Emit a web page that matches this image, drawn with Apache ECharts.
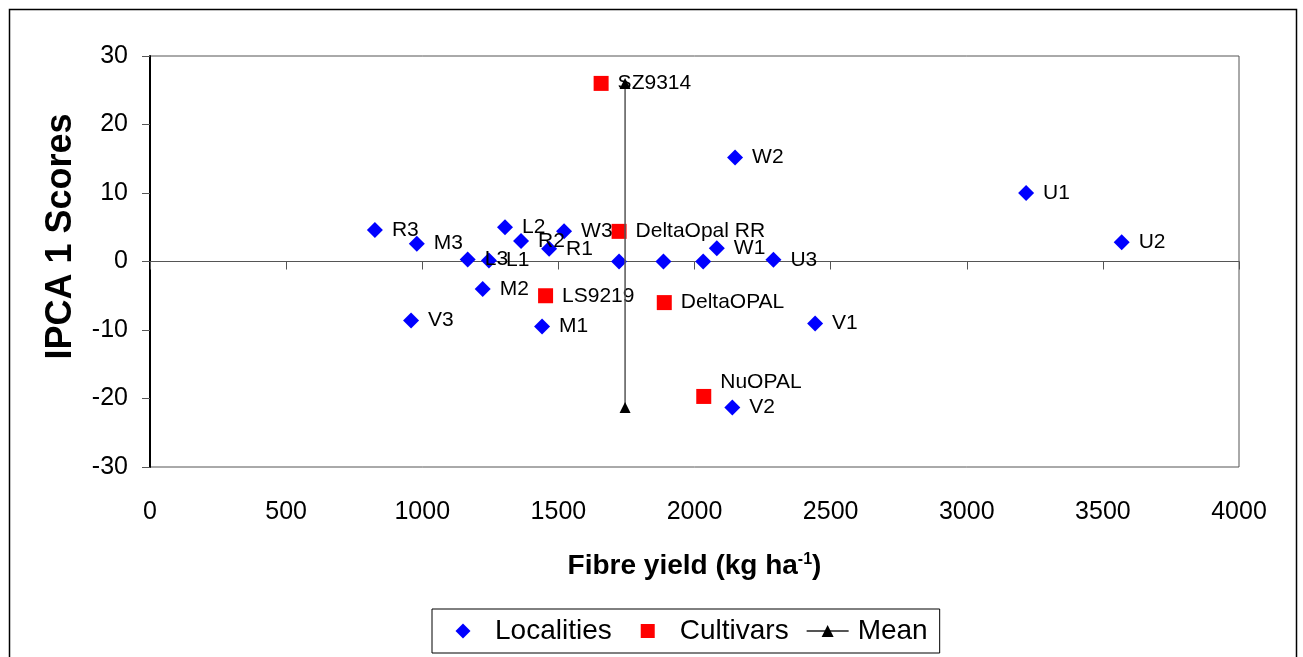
<!DOCTYPE html>
<html>
<head>
<meta charset="utf-8">
<script src="https://cdn.jsdelivr.net/npm/echarts@6/dist/echarts.min.js"></script>
<style>
  html, body { margin: 0; padding: 0; background: #fff; }
  #main { width: 1303px; height: 657px; }
</style>
</head>
<body>
<div id="main"></div>
<script>
// localities (blue diamonds) - last three have no label
var locNames = ['R3', 'M3', 'L3', 'L1', 'M2', 'V3', 'L2', 'R2', 'W3', 'R1', 'M1', 'W1', 'U3', 'W2', 'U1', 'U2', 'V1', 'V2', '', '', ''];
var locX = [826, 980, 1167, 1245, 1222, 959, 1304, 1363, 1521, 1466, 1440, 2082, 2290, 2149, 3218, 3569, 2443, 2139, 1723, 1886, 2032];
var locY = [4.6, 2.6, 0.3, 0.15, -4.0, -8.6, 5.0, 3.0, 4.4, 1.85, -9.5, 1.95, 0.25, 15.2, 10.0, 2.8, -9.05, -21.3, 0, 0, 0];

// cultivars (red squares)
var cultNames = ['SZ9314', 'DeltaOpal RR', 'LS9219', 'DeltaOPAL', 'NuOPAL'];
var cultX = [1657, 1723, 1453, 1889, 2034];
var cultY = [26.0, 4.4, -5.0, -6.0, -19.7];

// mean line
var meanX = [1745, 1745];
var meanY = [26.0, -21.3];

var xTicks = { min: 0, max: 4000, interval: 500 };
var yTicks = { min: -30, max: 30, interval: 10 };

var font = 'Arial, "Liberation Sans", sans-serif';

function pts(names, xs, ys) {
    return xs.map(function (x, i) {
        return { name: names[i], value: [x, ys[i]] };
    });
}

var cultData = pts(cultNames, cultX, cultY);
// NuOPAL label sits above the marker
cultData[4].label = { offset: [0, -14] };

var ptLabel = {
    show: true,
    position: 'right',
    distance: 9,
    formatter: '{b}',
    fontSize: 21,
    color: '#000',
    fontFamily: font
};

// legend icons drawn inside a 42x15 box so they sit in the middle of it
var diamondIcon = 'path://M0,0M42,15M19,0L26.5,7.5L19,15L11.5,7.5Z';
var squareIcon = 'path://M0,0M42,15M12,0.5H26V14.5H12Z';

var myChart = echarts.init(document.getElementById('main'));
myChart.setOption({
    animation: false,
    textStyle: { fontFamily: font },
    graphic: [{
        type: 'rect',
        silent: true,
        z: -10,
        shape: { x: 9.5, y: 9.5, width: 1287, height: 660 },
        style: { fill: null, stroke: '#000', lineWidth: 1.5 }
    }],
    grid: {
        left: 150, right: 64, top: 56, bottom: 190,
        show: true, borderColor: '#555', borderWidth: 1
    },
    legend: {
        data: [
            { name: 'Localities', icon: diamondIcon },
            { name: 'Cultivars', icon: squareIcon },
            { name: 'Mean' }
        ],
        left: 432, top: 609,
        padding: [8, 12, 8, 12],
        borderColor: '#000', borderWidth: 1,
        symbolKeepAspect: true,
        itemWidth: 42, itemHeight: 15, itemGap: 17,
        textStyle: { fontSize: 28, color: '#000', fontFamily: font, padding: [0, 0, 0, 4] }
    },
    xAxis: [{
        type: 'value',
        min: xTicks.min, max: xTicks.max, interval: xTicks.interval,
        position: 'bottom',
        axisLine: { show: false, onZero: false },
        axisTick: { show: false },
        splitLine: { show: false },
        axisLabel: { fontSize: 25, color: '#000', margin: 33, formatter: function (v) { return String(v); } },
        name: 'Fibre yield (kg ha{sup|-1})',
        nameLocation: 'middle',
        nameGap: 85,
        nameTextStyle: {
            fontSize: 28, fontWeight: 'bold', color: '#000',
            rich: { sup: { fontSize: 16, fontWeight: 'bold', color: '#000', verticalAlign: 'top' } }
        }
    }, {
        // zero line with its ticks
        type: 'value',
        min: xTicks.min, max: xTicks.max, interval: xTicks.interval,
        position: 'bottom',
        axisLine: { show: true, onZero: true, lineStyle: { color: '#555', width: 1 } },
        axisTick: { show: true, length: 8, lineStyle: { color: '#555' } },
        axisLabel: { show: false },
        splitLine: { show: false }
    }],
    yAxis: {
        type: 'value',
        min: yTicks.min, max: yTicks.max, interval: yTicks.interval,
        axisLine: { show: true, onZero: false, lineStyle: { color: '#000', width: 2 } },
        axisTick: { show: true, length: 8, lineStyle: { color: '#555' } },
        splitLine: { show: false },
        axisLabel: { fontSize: 25, color: '#000', margin: 22 },
        name: 'IPCA 1 Scores',
        nameLocation: 'middle',
        nameGap: 71,
        nameTextStyle: { fontSize: 36, fontWeight: 'bold', color: '#000', padding: [0, 0, 0, 50] }
    },
    series: [{
        name: 'Localities',
        type: 'scatter',
        symbol: 'diamond',
        symbolSize: 16,
        itemStyle: { color: '#0000ff', opacity: 1 },
        label: ptLabel,
        data: pts(locNames, locX, locY)
    }, {
        name: 'Cultivars',
        type: 'scatter',
        symbol: 'rect',
        symbolSize: 15,
        itemStyle: { color: '#ff0000', opacity: 1 },
        label: ptLabel,
        data: cultData
    }, {
        name: 'Mean',
        type: 'line',
        symbol: 'triangle',
        symbolSize: 11,
        showSymbol: true,
        z: 5,
        lineStyle: { color: '#555', width: 1.5 },
        itemStyle: { color: '#000' },
        data: meanX.map(function (x, i) { return [x, meanY[i]]; })
    }]
});
</script>
</body>
</html>
